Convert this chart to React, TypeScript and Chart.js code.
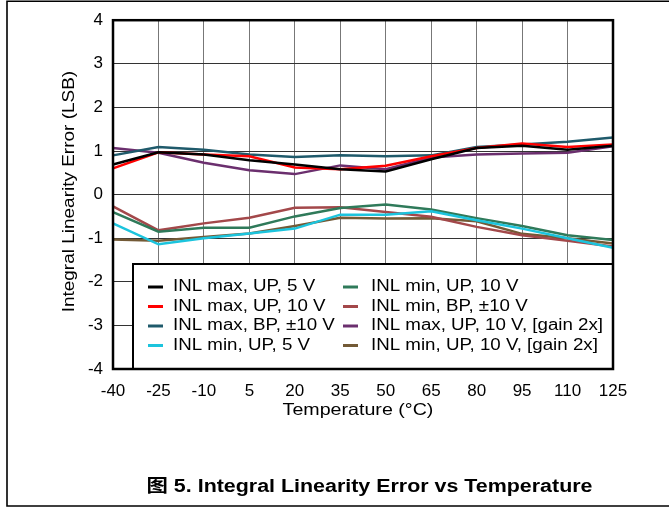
import React, { useEffect, useRef } from "react";
import { Chart, registerables } from "chart.js";

Chart.register(...registerables);

// ---- data ----
const temperatures = ["-40", "-25", "-10", "5", "20", "35", "50", "65", "80", "95", "110", "125"];

const inlMaxUp5 = [0.69, 0.97, 0.92, 0.79, 0.69, 0.58, 0.53, 0.81, 1.07, 1.12, 1.03, 1.12];
const inlMaxUp10 = [0.6, 0.97, 0.92, 0.88, 0.62, 0.58, 0.66, 0.88, 1.07, 1.17, 1.09, 1.15];
const inlMaxBp10 = [0.9, 1.09, 1.03, 0.92, 0.86, 0.9, 0.88, 0.9, 1.09, 1.15, 1.21, 1.31];
const inlMinUp5 = [-0.66, -1.14, -1.0, -0.89, -0.78, -0.46, -0.46, -0.38, -0.59, -0.78, -1.0, -1.22];
const inlMinUp10 = [-0.4, -0.85, -0.76, -0.76, -0.5, -0.31, -0.23, -0.34, -0.54, -0.72, -0.93, -1.04];
const inlMinBp10 = [-0.27, -0.82, -0.66, -0.53, -0.3, -0.29, -0.4, -0.51, -0.74, -0.93, -1.06, -1.19];
const inlMaxUp10Gain2 = [1.07, 0.96, 0.73, 0.56, 0.47, 0.67, 0.58, 0.85, 0.92, 0.94, 0.96, 1.11];
const inlMinUp10Gain2 = [-1.03, -1.06, -0.97, -0.89, -0.72, -0.53, -0.55, -0.54, -0.61, -0.9, -1.0, -1.12];

const seriesLabels = [
  "INL max, UP, 5 V",
  "INL max, UP, 10 V",
  "INL max, BP, \u00b110 V",
  "INL min, UP, 5 V",
  "INL min, UP, 10 V",
  "INL min, BP, \u00b110 V",
  "INL max, UP, 10 V, [gain 2x]",
  "INL min, UP, 10 V, [gain 2x]",
];

const seriesColors = ["#000000", "#ff0000", "#1f5a6b", "#1cc4dd", "#2f7a5a", "#a3484a", "#6b2f6e", "#735a36"];

const yTitle = "Integral Linearity Error (LSB)";
const xTitle = "Temperature (\u00b0C)";
const caption = "\u56fe 5. Integral Linearity Error vs Temperature";

const FONT = "'Liberation Sans', Arial, 'Noto Sans CJK SC', sans-serif";

function stretchedText(
  ctx: CanvasRenderingContext2D,
  text: string,
  x: number,
  y: number,
  font: string,
  sx: number,
  align: CanvasTextAlign,
  rotate = 0
) {
  ctx.save();
  ctx.font = font;
  ctx.fillStyle = "#000";
  ctx.translate(x, y);
  if (rotate) ctx.rotate(rotate);
  ctx.scale(sx, 1);
  ctx.textAlign = align;
  ctx.textBaseline = "middle";
  ctx.fillText(text, 0, 0);
  ctx.restore();
}

export default function App() {
  const ref = useRef<HTMLCanvasElement>(null);

  useEffect(() => {
    document.body.style.margin = "0";
    document.body.style.overflow = "hidden";
    const canvas = ref.current;
    if (!canvas) return;

    const seriesData = [
      inlMaxUp5,
      inlMaxUp10,
      inlMaxBp10,
      inlMinUp5,
      inlMinUp10,
      inlMinBp10,
      inlMaxUp10Gain2,
      inlMinUp10Gain2,
    ];

    const overlay = {
      id: "overlay",
      afterDraw(chart: any) {
        const ctx: CanvasRenderingContext2D = chart.ctx;
        const a = chart.chartArea;
        ctx.save();

        // outer figure border
        ctx.strokeStyle = "#000";
        ctx.lineWidth = 1.6;
        ctx.beginPath();
        ctx.moveTo(669, 1.2);
        ctx.lineTo(7, 1.2);
        ctx.lineTo(7, 506);
        ctx.lineTo(669, 506);
        ctx.stroke();

        // legend box
        const lx = a.left + 20;
        const ly = 264;
        const lw = a.right - lx;
        const lh = a.bottom - ly;
        ctx.fillStyle = "#fff";
        ctx.fillRect(lx, ly, lw, lh);
        ctx.lineWidth = 2;
        ctx.strokeStyle = "#000";
        ctx.strokeRect(lx, ly, lw, lh);

        const colLine = [148, 343];
        const colText = [173, 371];
        const rowY = [287, 306.5, 326, 345.5];
        seriesLabels.forEach((label, i) => {
          const c = Math.floor(i / 4);
          const r = i % 4;
          ctx.strokeStyle = seriesColors[i];
          ctx.lineWidth = 3;
          ctx.beginPath();
          ctx.moveTo(colLine[c], rowY[r]);
          ctx.lineTo(colLine[c] + 15, rowY[r]);
          ctx.stroke();
          stretchedText(ctx, label, colText[c], rowY[r], `16px ${FONT}`, 1.17, "left");
        });

        // plot frame
        ctx.strokeStyle = "#000";
        ctx.lineWidth = 2.5;
        ctx.strokeRect(a.left, a.top, a.right - a.left, a.bottom - a.top);

        // axis titles and caption
        stretchedText(ctx, xTitle, (a.left + a.right) / 2 - 5, 410, `16.5px ${FONT}`, 1.19, "center");
        stretchedText(ctx, yTitle, 69, (a.top + a.bottom) / 2 - 3, `16.5px ${FONT}`, 1.15, "center", -Math.PI / 2);
        stretchedText(ctx, caption, 369.5, 487, `bold 18px ${FONT}`, 1.19, "center");

        ctx.restore();
      },
    };

    const chart = new Chart(canvas, {
      type: "line",
      data: {
        labels: temperatures,
        datasets: seriesData.map((d, i) => ({
          label: seriesLabels[i],
          data: d,
          borderColor: seriesColors[i],
          backgroundColor: seriesColors[i],
          borderWidth: 2.5,
          pointRadius: 0,
          pointHoverRadius: 0,
          tension: 0,
          fill: false,
        })),
      },
      options: {
        responsive: false,
        animation: false,
        events: [],
        layout: { padding: { left: 0, top: 16, right: 56, bottom: 0 } },
        plugins: {
          legend: { display: false },
          tooltip: { enabled: false },
          title: { display: false },
        },
        scales: {
          x: {
            type: "category",
            offset: false,
            grid: { color: "#777", lineWidth: 1, drawTicks: false, offset: false },
            border: { display: false },
            ticks: {
              color: "#000",
              font: { family: FONT, size: 17 },
              padding: 12,
              maxRotation: 0,
              autoSkip: false,
            },
            afterFit: (s: any) => {
              s.height = 139;
            },
          },
          y: {
            min: -4,
            max: 4,
            ticks: { stepSize: 1, color: "#000", font: { family: FONT, size: 17 }, padding: 10 },
            grid: { color: "#333", lineWidth: 1, drawTicks: false },
            border: { display: false },
            afterFit: (s: any) => {
              s.width = 113;
            },
          },
        },
      },
      plugins: [overlay],
    } as any);

    return () => chart.destroy();
  }, []);

  return (
    <div style={{ width: 669, height: 508 }}>
      <canvas ref={ref} width={669} height={508} style={{ display: "block" }} />
    </div>
  );
}
